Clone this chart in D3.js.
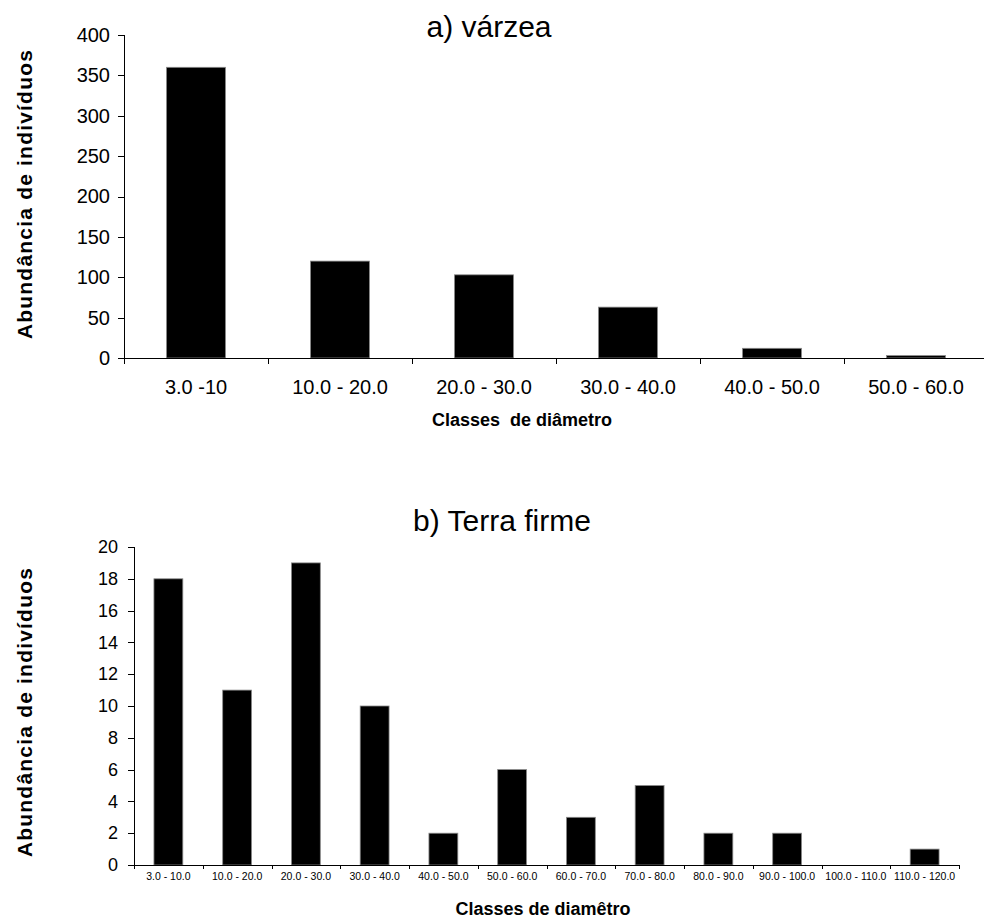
<!DOCTYPE html>
<html>
<head>
<meta charset="utf-8">
<script src="https://cdn.jsdelivr.net/npm/d3@7"></script>
<style>
  html, body { margin: 0; padding: 0; background: #fff; }
  svg { display: block; }
  text { font-family: "Liberation Sans", Arial, Helvetica, sans-serif; fill: #000; }
</style>
</head>
<body>
<script>
// ---- data ----
const catsA = ["3.0 -10", "10.0 - 20.0", "20.0 - 30.0", "30.0 - 40.0", "40.0 - 50.0", "50.0 - 60.0"];
const valsA = [360, 120, 103, 63, 12, 3];
const ticksA = [0, 50, 100, 150, 200, 250, 300, 350, 400];

const catsB = ["3.0 - 10.0", "10.0 - 20.0", "20.0 - 30.0", "30.0 - 40.0", "40.0 - 50.0", "50.0 - 60.0",
               "60.0 - 70.0", "70.0 - 80.0", "80.0 - 90.0", "90.0 - 100.0", "100.0 - 110.0", "110.0 - 120.0"];
const valsB = [18, 11, 19, 10, 2, 6, 3, 5, 2, 2, 0, 1];
const ticksB = [0, 2, 4, 6, 8, 10, 12, 14, 16, 18, 20];

const titleA = "a) várzea";
const titleB = "b) Terra firme";
const xTitleA = "Classes\u00a0\u00a0de diâmetro";
const xTitleB = "Classes de diamêtro";
const yTitle = "Abundância de indivíduos";

const W = 984, H = 918;
const svg = d3.select("body").append("svg").attr("width", W).attr("height", H);

function panel(cfg) {
  const g = svg.append("g");
  const x = d3.scaleBand().domain(cfg.cats).range([cfg.x0, cfg.x1])
    .paddingInner(cfg.pad).paddingOuter(cfg.pad / 2);
  const y = d3.scaleLinear().domain([0, cfg.ymax]).range([cfg.y0, cfg.y1]);

  // bars
  g.selectAll("rect.bar").data(cfg.vals).join("rect")
    .attr("class", "bar")
    .attr("x", (d, i) => x(cfg.cats[i]))
    .attr("width", x.bandwidth())
    .attr("y", d => y(d))
    .attr("height", d => y(0) - y(d))
    .attr("fill", "#000")
    .attr("stroke", d => d > 0 ? "#8a8a8a" : "none")
    .attr("stroke-width", 0.8);

  // y axis
  const ya = d3.axisLeft(y).tickValues(cfg.ticks).tickSize(6).tickPadding(cfg.yPad).tickFormat(d3.format("d"));
  const yg = g.append("g").attr("transform", `translate(${cfg.x0},0)`).call(ya);
  yg.select(".domain").attr("stroke", "#000").attr("shape-rendering", "crispEdges");
  yg.selectAll(".tick line").attr("stroke", "#000").attr("shape-rendering", "crispEdges");
  yg.selectAll("text").style("font-size", cfg.yFont + "px").attr("fill", "#000");

  // x baseline with boundary ticks
  const xl = d3.scaleLinear().domain([0, cfg.cats.length]).range([cfg.x0, cfg.x1]);
  const xa = d3.axisBottom(xl).tickValues(d3.range(cfg.cats.length + 1)).tickSize(cfg.xTick)
    .tickSizeOuter(0).tickFormat("");
  const xg = g.append("g").attr("transform", `translate(0,${cfg.y0})`).call(xa);
  xg.select(".domain").attr("stroke", "#000").attr("shape-rendering", "crispEdges");
  xg.selectAll(".tick line").attr("stroke", "#000").attr("shape-rendering", "crispEdges");

  // category labels
  const xc = d3.axisBottom(x).tickSize(0).tickPadding(cfg.xPad);
  const xcg = g.append("g").attr("transform", `translate(0,${cfg.y0})`).call(xc);
  xcg.select(".domain").remove();
  xcg.selectAll("text").style("font-size", cfg.xFont + "px").attr("fill", "#000");

  // title
  g.append("text").attr("x", cfg.titleX).attr("y", cfg.titleY).attr("text-anchor", "middle")
    .style("font-size", "30px").text(cfg.title);
  // x title
  g.append("text").attr("x", cfg.xtX).attr("y", cfg.xtY).attr("text-anchor", "middle")
    .style("font-size", "18px").style("font-weight", "bold").text(cfg.xTitle);
  // y title
  g.append("text").attr("transform", `translate(${cfg.ytX},${cfg.ytY}) rotate(-90)`)
    .attr("text-anchor", "middle").style("font-size", cfg.ytFont + "px").style("font-weight", "bold")
    .style("letter-spacing", "1.2px")
    .text(yTitle);
}

panel({
  cats: catsA, vals: valsA, ticks: ticksA, ymax: 400,
  x0: 124, x1: 988, y0: 358, y1: 35, pad: 0.59,
  yFont: 20, yPad: 8, xFont: 20, xPad: 22, xTick: 6,
  title: titleA, titleX: 489, titleY: 37,
  xTitle: xTitleA, xtX: 522, xtY: 426,
  ytX: 32, ytY: 194, ytFont: 21
});

panel({
  cats: catsB, vals: valsB, ticks: ticksB, ymax: 20,
  x0: 134, x1: 959, y0: 865, y1: 547, pad: 0.58,
  yFont: 18, yPad: 10, xFont: 10.5, xPad: 8, xTick: 4,
  title: titleB, titleX: 502, titleY: 531,
  xTitle: xTitleB, xtX: 543, xtY: 915,
  ytX: 32, ytY: 712, ytFont: 21
});
</script>
</body>
</html>
